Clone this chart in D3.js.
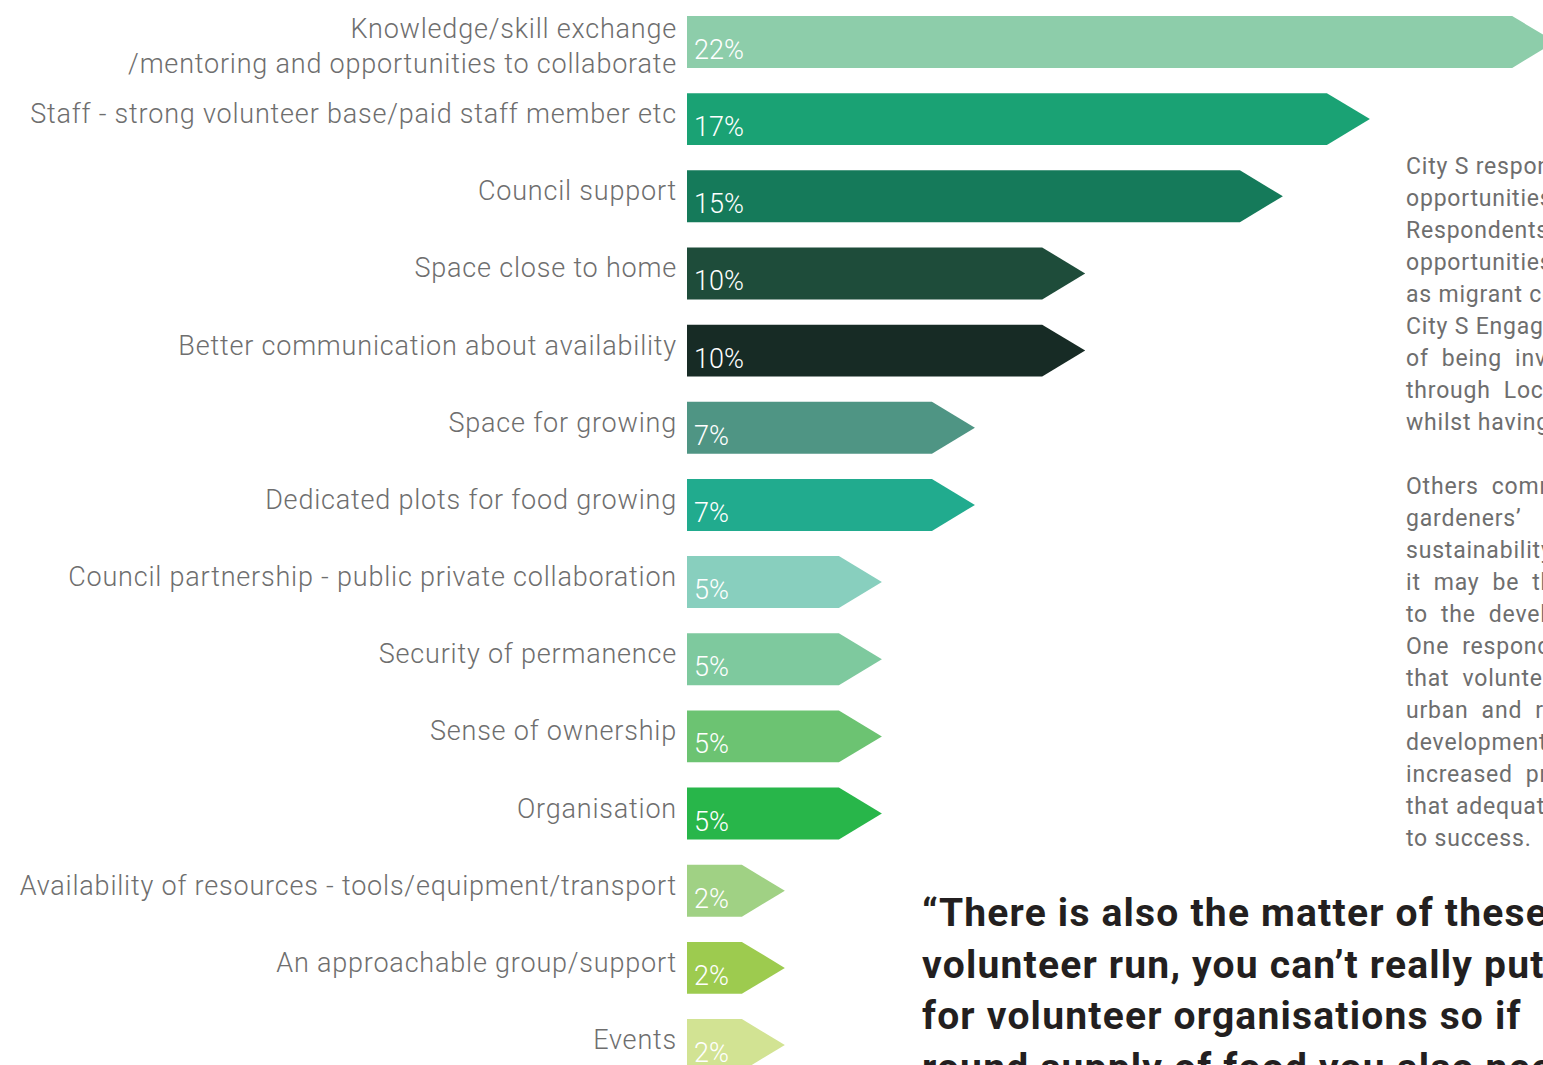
<!DOCTYPE html>
<html>
<head>
<meta charset="utf-8">
<script src="https://cdn.jsdelivr.net/npm/d3@7"></script>
<style>
  html, body { margin: 0; padding: 0; background: #fff; overflow: hidden; }
  svg { display: block; }
</style>
</head>
<body>
<div id="chart"></div>
<script>
// categories (label lines) and shares
const categories = [
  ['Knowledge/skill exchange', '/mentoring and opportunities to collaborate'],
  ['Staff - strong volunteer base/paid staff member etc'],
  ['Council support'],
  ['Space close to home'],
  ['Better communication about availability'],
  ['Space for growing'],
  ['Dedicated plots for food growing'],
  ['Council partnership - public private collaboration'],
  ['Security of permanence'],
  ['Sense of ownership'],
  ['Organisation'],
  ['Availability of resources - tools/equipment/transport'],
  ['An approachable group/support'],
  ['Events']
];
const values = [21.65, 17.03, 14.86, 9.93, 9.93, 7.18, 7.18, 4.86, 4.86, 4.86, 4.86, 2.44, 2.44, 2.44];
const colors = ['#8dcdaa', '#1aa274', '#157a5a', '#1e4c3a', '#172b25', '#4f9584', '#21ab8e',
  '#88cfbe', '#7ec99e', '#6cc372', '#28b64a', '#a0d184', '#9dcb4f', '#d2e393'];

// side text (cut off by the page edge in the source)
const bodyLines = [
  'City S respondents', 'opportunities', 'Respondents', 'opportunities', 'as migrant communities',
  'City S Engagement', 'of  being  involved', 'through  Local', 'whilst having', '',
  'Others  commented', 'gardeners\u2019  ', 'sustainability', 'it  may  be  that', 'to  the  development',
  'One  respondent', 'that  volunteers', 'urban  and  rural', 'development', 'increased  pressure',
  'that adequate', 'to success.'
];
const quoteLines = [
  '\u201CThere is also the matter of these',
  'volunteer run, you can\u2019t really put',
  'for volunteer organisations so if',
  'round supply of food you also need'
];

const width = 1543, height = 1065;
const margin = {left: 687};
const headW = 43;

const svg = d3.select('#chart').append('svg')
  .attr('width', width)
  .attr('height', height);

const x = d3.scaleLinear().domain([0, 22]).range([margin.left, margin.left + 22 * 40.1]);
const y = d3.scaleBand().domain(d3.range(values.length)).range([16, 1071])
  .paddingInner(0.327).paddingOuter(0);
const bh = y.bandwidth();

function arrow(v, i) {
  const x0 = x(0), tip = x(v), b = tip - headW;
  const t = y(i), m = t + bh / 2, btm = t + bh;
  return `M${x0},${t}L${b},${t}L${tip},${m}L${b},${btm}L${x0},${btm}Z`;
}

svg.selectAll('.bar')
  .data(values)
  .enter().append('path')
  .attr('class', 'bar')
  .attr('d', (d, i) => arrow(d, i))
  .attr('fill', (d, i) => colors[i]);

// percentage labels inside the bars
svg.selectAll('.pct')
  .data(values)
  .enter().append('text')
  .attr('class', 'pct')
  .attr('x', x(0) + 7)
  .attr('y', (d, i) => y(i) + bh - 9)
  .style('font-family', 'Roboto')
  .style('font-weight', 300)
  .style('font-size', '27px')
  .style('fill', '#fff')
  .text(d => Math.round(d) + '%');

// category labels
const lab = svg.selectAll('.lab')
  .data(categories)
  .enter().append('text')
  .attr('class', 'lab')
  .attr('text-anchor', 'end')
  .style('font-family', 'Roboto')
  .style('font-weight', 300)
  .style('font-size', '27px')
  .style('letter-spacing', '0.8px')
  .style('fill', '#6e6e6e');

lab.each(function(lines, i) {
  const el = d3.select(this);
  const c = y(i) + bh / 2 + 4;
  const y0 = lines.length > 1 ? y(i) + 22 : c;
  lines.forEach((s, k) => {
    el.append('tspan')
      .attr('x', 677)
      .attr('y', y0 + k * 35)
      .text(s);
  });
});

// side paragraph
svg.append('g')
  .selectAll('text')
  .data(bodyLines)
  .enter().append('text')
  .attr('x', 1406)
  .attr('y', (d, i) => 174 + i * 32)
  .style('font-family', 'Roboto')
  .style('font-size', '23px')
  .style('letter-spacing', '0.8px')
  .style('fill', '#6e6e6e')
  .style('white-space', 'pre')
  .text(d => d);

// quote
svg.append('g')
  .selectAll('text')
  .data(quoteLines)
  .enter().append('text')
  .attr('x', 922)
  .attr('y', (d, i) => 926 + i * 51.5)
  .style('font-family', 'Roboto')
  .style('font-weight', 700)
  .style('font-size', '39px')
  .style('letter-spacing', '1.2px')
  .style('fill', '#231f20')
  .text(d => d);
</script>
</body>
</html>
